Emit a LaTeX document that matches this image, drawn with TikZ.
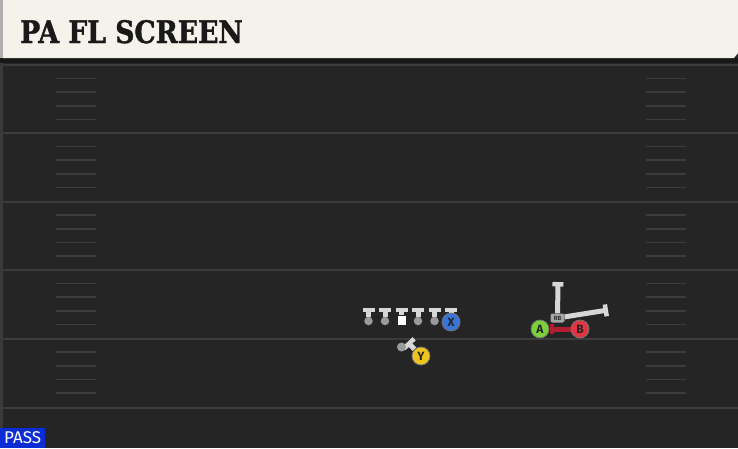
\documentclass[tikz,border=0pt]{standalone}
\usepackage{fontspec}
\usetikzlibrary{arrows.meta, backgrounds}
\newfontfamily\titlefont{DejaVu Serif}[FakeStretch=0.86, BoldFeatures={FakeBold=1.2}]
\newfontfamily\labelfont{Fira Sans}
\definecolor{fieldgray}{RGB}{37,37,37}
\definecolor{shadowgray}{RGB}{24,24,24}
\definecolor{sidegray}{RGB}{58,58,58}
\definecolor{yardgray}{RGB}{60,60,60}
\definecolor{hashgray}{RGB}{60,60,60}
\definecolor{headcream}{RGB}{245,242,235}
\definecolor{edgegray}{RGB}{176,176,176}
\definecolor{blockgray}{RGB}{215,215,215}
\definecolor{linegray}{RGB}{155,155,155}
\definecolor{rbgray}{RGB}{165,165,165}
\definecolor{xblue}{RGB}{58,116,216}
\definecolor{yyellow}{RGB}{240,196,30}
\definecolor{agreen}{RGB}{124,208,58}
\definecolor{bred}{RGB}{226,52,66}
\definecolor{routered}{RGB}{178,30,46}
\definecolor{passblue}{RGB}{12,44,214}
\tikzstyle{yardline} = [draw=yardgray, line width=2]
\tikzstyle{hashmark} = [draw=hashgray, line width=1.6]
\tikzstyle{lineman} = [circle, fill=linegray, minimum size=8.5, inner sep=0]
\tikzstyle{snapper} = [rectangle, fill=white, minimum width=8, minimum height=9, inner sep=0]
\tikzstyle{receiver} = [circle, draw=black!55, line width=0.8, minimum size=18, inner sep=0, text=black!85, font=\labelfont\bfseries\fontsize{12}{12}\selectfont]
\tikzstyle{rbbox} = [rectangle, rounded corners=2, fill=rbgray, minimum width=14, minimum height=9, inner sep=0, text=black!80, font=\labelfont\bfseries\fontsize{6}{6}\selectfont]
\tikzstyle{block} = [draw=blockgray, line width=5pt, -{Bar[width=12pt, line width'=4.5pt]}]
\tikzstyle{route} = [draw=routered, line width=5pt, -{Bar[width=10pt, line width'=3.5pt]}]

\begin{document}
\begin{tikzpicture}[x=1pt, y=-1pt]
\useasboundingbox (0,0) rectangle (738,448);

% Field
\begin{pgfonlayer}{background}
\fill[fieldgray] (0,0) rectangle (738,448);
\fill[sidegray] (0,58) rectangle (2.5,448);
\fill[shadowgray] (0,58) rectangle (738,63);
\foreach \y in {65,133,201.5,270,338.5,407.5}
  \draw[yardline] (2.5,\y) -- (738,\y);
\foreach \y in {65,133,201.5,270,338.5}
  \foreach \k in {1,...,4} {
    \draw[hashmark] (56,\y+13.6*\k) -- (96,\y+13.6*\k);
    \draw[hashmark] (646,\y+13.6*\k) -- (686,\y+13.6*\k);
  }
\end{pgfonlayer}

% Header
\fill[headcream] (3,0) -- (738,0) -- (738,53) -- (734,58) -- (3,58) -- cycle;
\fill[edgegray] (0,0) rectangle (3,58);
\node[anchor=base west, inner sep=0, text=black!90, font=\titlefont\bfseries\fontsize{31}{31}\selectfont] (title) at (20,43) {PA FL SCREEN};

% Line
\node[lineman] (lt) at (368.5,321) {};
\node[lineman] (lg) at (385,321) {};
\node[snapper] (c) at (401.5,320) {};
\node[lineman] (rg) at (418,321) {};
\node[lineman] (rt) at (434.5,321) {};

% Skill players
\node[receiver, fill=xblue] (x) at (451,322) {X};
\node[receiver, fill=yyellow] (y) at (421,356) {Y};
\node[lineman, minimum size=9] (yend) at (401.5,347) {};
\node[rbbox] (rb) at (557.5,318) {RB};
\node[receiver, fill=agreen] (a) at (540,329) {A};
\node[receiver, fill=bred] (b) at (580,329) {B};

% Block and route targets
\coordinate (lt_blk) at (368.5,307.5);
\coordinate (lg_blk) at (385,307.5);
\coordinate (c_blk) at (401.5,307.5);
\coordinate (rg_blk) at (418,307.5);
\coordinate (rt_blk) at (434.5,307.5);
\coordinate (x_blk) at (451,307.5);
\coordinate (y_blk) at (407.5,342);
\coordinate (rb_up) at (558,282);
\coordinate (rb_out) at (608,310);
\coordinate (b_end) at (550,329);

% Assignments
\begin{pgfonlayer}{background}
\draw[block] (lt) -- (lt_blk);
\draw[block] (lg) -- (lg_blk);
\draw[block] (c) -- (c_blk);
\draw[block] (rg) -- (rg_blk);
\draw[block] (rt) -- (rt_blk);
\draw[block] (x) -- (x_blk);
\draw[block, -{Bar[width=14pt, line width'=4.5pt]}] (y) -- (y_blk);
\draw[block, -{Bar[width=11pt, line width'=4.5pt]}] (rb) -- (rb_up);
\draw[block] (rb) -- (rb_out);
\draw[route] (b) -- (b_end);
\end{pgfonlayer}

% Play type
\node[anchor=south west, fill=passblue, text=white, minimum width=45, minimum height=20, inner sep=0, font=\labelfont\fontsize{17}{17}\selectfont] (pass) at (0,448) {PASS};

\end{tikzpicture}
\end{document}
